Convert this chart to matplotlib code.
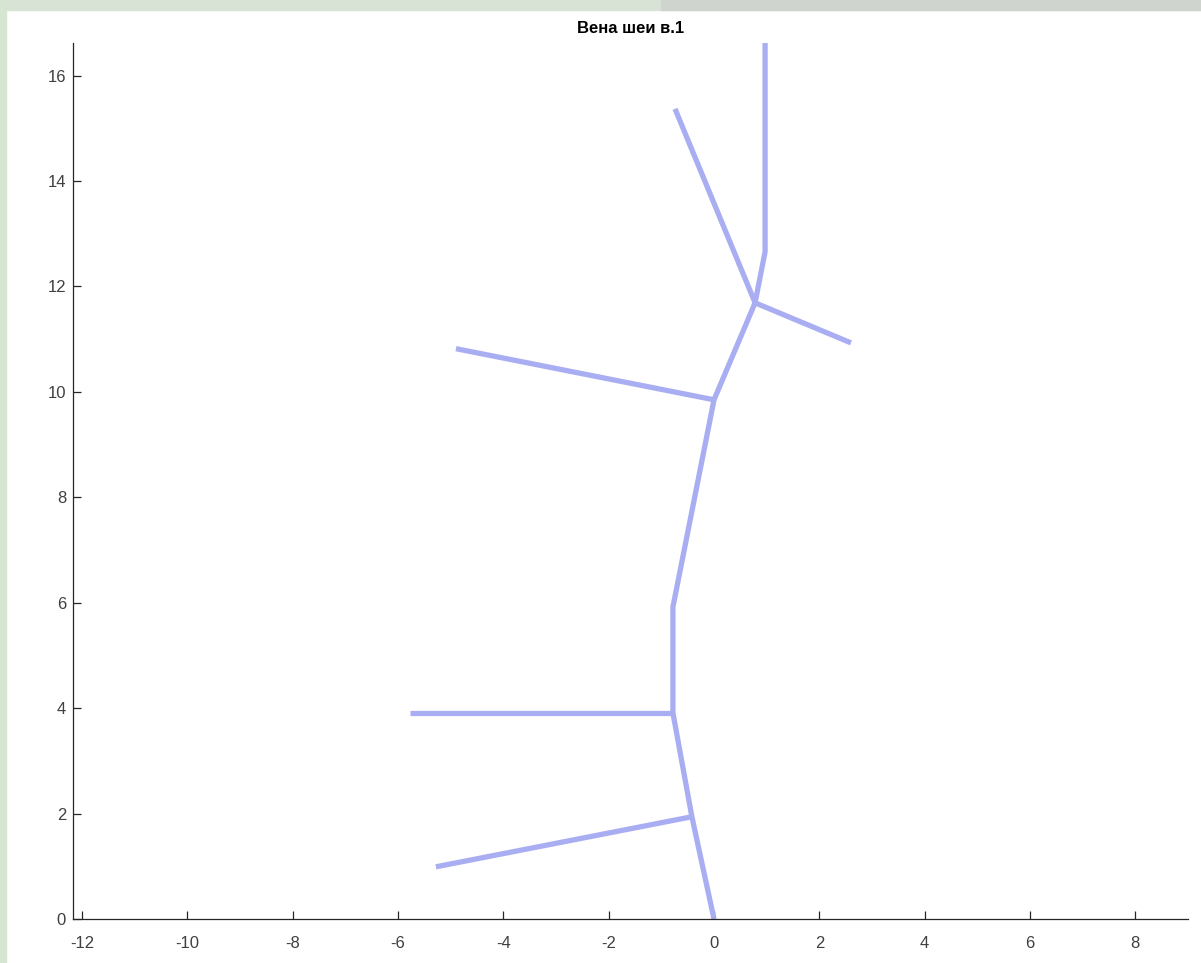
import matplotlib
matplotlib.use("Agg")
import matplotlib.pyplot as plt
from matplotlib.patches import Rectangle

# Main vein trunk, bottom to top
trunk_x = [0.0, -0.42, -0.78, -0.78, 0.0, 0.78, 0.97, 0.97]
trunk_y = [0.0, 1.94, 3.91, 5.92, 9.85, 11.69, 12.66, 16.64]

# Side branches: start point on trunk -> free end
branch_x0 = [-0.42, -0.78, 0.0, 0.78, 0.78]
branch_y0 = [1.94, 3.91, 9.85, 11.69, 11.69]
branch_x1 = [-5.28, -5.77, -4.90, -0.74, 2.60]
branch_y1 = [0.99, 3.91, 10.82, 15.37, 10.93]

x_ticks = [-12, -10, -8, -6, -4, -2, 0, 2, 4, 6, 8]
y_ticks = [0, 2, 4, 6, 8, 10, 12, 14, 16]

title = "Вена шеи в.1"
vein_color = "#a9aef2"

plt.rcParams["font.family"] = ["Liberation Sans", "DejaVu Sans"]
plt.rcParams["axes.unicode_minus"] = False

fig = plt.figure(figsize=(12.01, 9.63), dpi=100)
fig.patch.set_facecolor("white")

# blurred desktop strips around the window edge
fig.patches.append(Rectangle((0, 0.99), 1, 0.01, transform=fig.transFigure,
                             color="#d9e3d5", zorder=0))
fig.patches.append(Rectangle((0.55, 0.99), 0.45, 0.01, transform=fig.transFigure,
                             color="#cfd4cf", zorder=0))
fig.patches.append(Rectangle((0, 0), 0.005, 1, transform=fig.transFigure,
                             color="#d6e4d2", zorder=0))

ax = fig.add_axes([0.0608, 0.0457, 0.9284, 0.9097])

ax.plot(trunk_x, trunk_y, color=vein_color, linewidth=3.8, solid_capstyle="butt")
for x0, y0, x1, y1 in zip(branch_x0, branch_y0, branch_x1, branch_y1):
    ax.plot([x0, x1], [y0, y1], color=vein_color, linewidth=3.8, solid_capstyle="butt")

ax.set_xlim(-12.17, 9.0)
ax.set_ylim(0, 16.62)
ax.set_xticks(x_ticks)
ax.set_yticks(y_ticks)

ax.spines["top"].set_visible(False)
ax.spines["right"].set_visible(False)
for side in ["left", "bottom"]:
    ax.spines[side].set_color("#262626")
    ax.spines[side].set_linewidth(0.9)
ax.tick_params(direction="in", length=6, width=0.9, colors="#262626",
               labelcolor="#404040", labelsize=12)
ax.tick_params(axis="x", pad=12)
ax.tick_params(axis="y", pad=5)

ax.set_title(title, fontsize=12, fontweight="bold", pad=7)

fig.savefig("out.png", dpi=100)
